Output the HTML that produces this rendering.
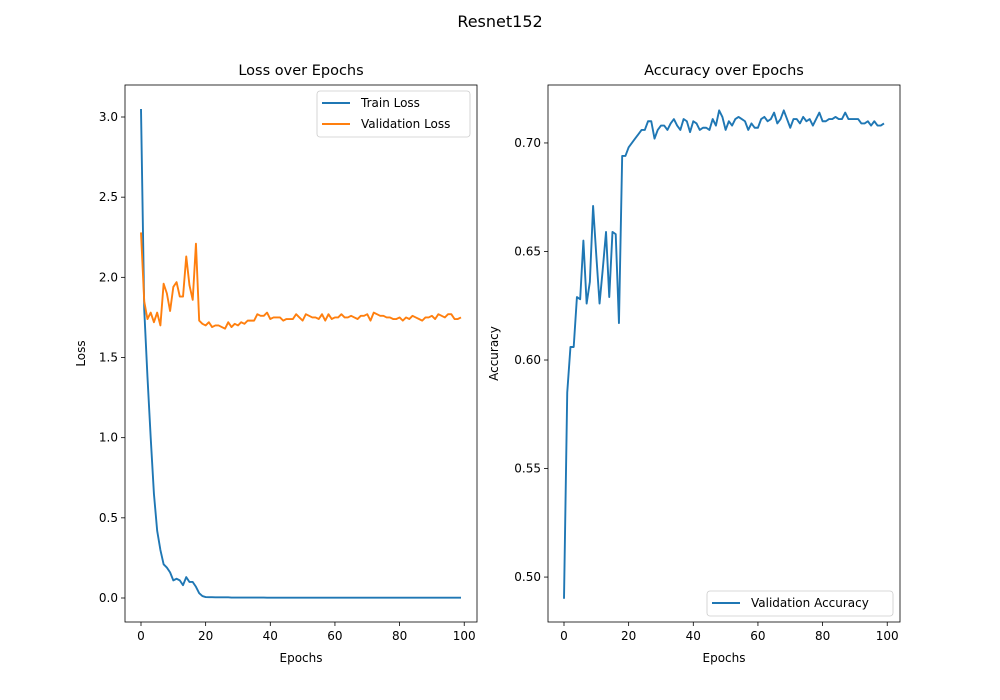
<!DOCTYPE html>
<html><head><meta charset="utf-8">
<style>
body{margin:0;background:#fff;}
svg{display:block;font-family:"DejaVu Sans","Liberation Sans",sans-serif;}
</style></head>
<body>
<svg id="chart" width="1000" height="700" viewBox="0 0 1000 700">
<rect width="1000" height="700" fill="#fff"/>
<text x="500" y="27" text-anchor="middle" font-size="16">Resnet152</text>
<g id="left"></g>
<g id="right"></g>
</svg>
<script>
const trainLoss=[3.05,1.8,1.38,1.0,0.65,0.42,0.3,0.21,0.19,0.16,0.11,0.12,0.11,0.08,0.13,0.10,0.10,0.07,0.03,0.012,0.006,0.005,0.005,0.004,0.004,0.004,0.004,0.004,0.003,0.003,0.003,0.003,0.003,0.003,0.003,0.003,0.003,0.003,0.003,0.002,0.002,0.002,0.002,0.002,0.002,0.002,0.002,0.002,0.002,0.002,0.002,0.002,0.002,0.002,0.002,0.002,0.002,0.002,0.002,0.002,0.002,0.002,0.002,0.002,0.002,0.002,0.002,0.002,0.002,0.002,0.002,0.002,0.002,0.002,0.002,0.002,0.002,0.002,0.002,0.002,0.002,0.002,0.002,0.002,0.002,0.002,0.002,0.002,0.002,0.002,0.002,0.002,0.002,0.002,0.002,0.002,0.002,0.002,0.002,0.002];
const valLoss=[2.28,1.85,1.74,1.78,1.72,1.78,1.70,1.96,1.90,1.79,1.94,1.97,1.88,1.88,2.13,1.95,1.86,2.21,1.73,1.71,1.70,1.72,1.69,1.70,1.70,1.69,1.68,1.72,1.69,1.71,1.70,1.72,1.71,1.73,1.73,1.73,1.77,1.76,1.76,1.78,1.74,1.75,1.75,1.75,1.73,1.74,1.74,1.74,1.77,1.75,1.73,1.77,1.76,1.75,1.75,1.74,1.77,1.73,1.77,1.74,1.75,1.75,1.77,1.75,1.75,1.76,1.75,1.74,1.76,1.76,1.77,1.73,1.78,1.77,1.76,1.76,1.75,1.75,1.74,1.74,1.75,1.73,1.75,1.74,1.76,1.75,1.74,1.73,1.75,1.75,1.76,1.74,1.77,1.76,1.75,1.77,1.77,1.74,1.74,1.75];
const valAcc=[0.490,0.585,0.606,0.606,0.629,0.628,0.655,0.626,0.636,0.671,0.648,0.626,0.642,0.659,0.629,0.659,0.658,0.617,0.694,0.694,0.698,0.700,0.702,0.704,0.706,0.706,0.710,0.710,0.702,0.706,0.708,0.708,0.706,0.709,0.711,0.708,0.706,0.711,0.710,0.705,0.710,0.709,0.706,0.707,0.707,0.706,0.711,0.708,0.715,0.712,0.706,0.710,0.708,0.711,0.712,0.711,0.710,0.706,0.709,0.707,0.707,0.711,0.712,0.710,0.711,0.714,0.709,0.711,0.715,0.711,0.707,0.711,0.711,0.709,0.712,0.710,0.711,0.708,0.711,0.714,0.710,0.710,0.711,0.711,0.712,0.711,0.711,0.714,0.711,0.711,0.711,0.711,0.709,0.709,0.710,0.708,0.710,0.708,0.708,0.709];
const xTicks=[0,20,40,60,80,100];
const lossTicks=[0.0,0.5,1.0,1.5,2.0,2.5,3.0];
const accTicks=[0.50,0.55,0.60,0.65,0.70];
const NS='http://www.w3.org/2000/svg';
function mk(p,tag,attrs){const e=document.createElementNS(NS,tag);for(const k in attrs)e.setAttribute(k,attrs[k]);p.appendChild(e);return e;}
function panel(g,box,xmin,xmax,ymin,ymax,yTicks,yFmt,title,ylabel){
  const X=v=>box.x+(v-xmin)/(xmax-xmin)*box.w;
  const Y=v=>box.y+box.h-(v-ymin)/(ymax-ymin)*box.h;
  const fr=mk(g,'rect',{x:box.x,y:box.y,width:box.w,height:box.h,fill:'none',stroke:'#000','stroke-width':0.8});
  
  
  xTicks.forEach(t=>{
    const l=mk(g,'line',{x1:X(t),x2:X(t),y1:box.y+box.h,y2:box.y+box.h+4,stroke:'#000','stroke-width':0.8});
    
    
    const tx=mk(g,'text',{x:X(t),y:box.y+box.h+18,'text-anchor':'middle','font-size':12});tx.textContent=t;
    
    
  });
  yTicks.forEach(t=>{
    const l=mk(g,'line',{x1:box.x-4,x2:box.x,y1:Y(t),y2:Y(t),stroke:'#000','stroke-width':0.8});
    
    
    const tx=mk(g,'text',{x:box.x-7,y:Y(t)+4,'text-anchor':'end','font-size':12});tx.textContent=yFmt(t);
    
    
  });
  const ti=mk(g,'text',{x:box.x+box.w/2,y:box.y-10,'text-anchor':'middle','font-size':14.5});ti.textContent=title;
  
  
  const xl=mk(g,'text',{x:box.x+box.w/2,y:box.y+box.h+40,'text-anchor':'middle','font-size':12});xl.textContent='Epochs';
  
  
  const yx=box.x-(title.startsWith('Loss')?40:50);
  const yl=mk(g,'text',{x:yx,y:box.y+box.h/2,'text-anchor':'middle','font-size':12,transform:`rotate(-90 ${yx} ${box.y+box.h/2})`});yl.textContent=ylabel;
  
  
  return {X,Y};
}
function line(g,ax,data,color,name){
  const d=data.map((v,i)=>(i?'L':'M')+ax.X(i).toFixed(2)+','+ax.Y(v).toFixed(2)).join(' ');
  const p=mk(g,'path',{d:d,fill:'none',stroke:color,'stroke-width':1.9,'stroke-linejoin':'round'});
  
  
}
const L=document.getElementById('left'),R=document.getElementById('right');
const axL=panel(L,{x:125,y:85,w:352,h:537},-4.95,103.95,-0.1497,3.1996,lossTicks,t=>t.toFixed(1),'Loss over Epochs','Loss');
line(L,axL,trainLoss,'#1f77b4','train-loss-line');
line(L,axL,valLoss,'#ff7f0e','validation-loss-line');
const axR=panel(R,{x:548,y:85,w:352,h:537},-4.95,103.95,0.4793,0.7267,accTicks,t=>t.toFixed(2),'Accuracy over Epochs','Accuracy');
line(R,axR,valAcc,'#1f77b4','validation-accuracy-line');
const lg1=mk(L,'g',{});


mk(lg1,'rect',{x:317,y:91,width:153,height:46,rx:3,fill:'#fff',stroke:'#ccc','stroke-width':0.8});
mk(lg1,'line',{x1:322,x2:350,y1:103,y2:103,stroke:'#1f77b4','stroke-width':1.9});
let t1=mk(lg1,'text',{x:361,y:107,'font-size':12});t1.textContent='Train Loss';


mk(lg1,'line',{x1:322,x2:350,y1:124,y2:124,stroke:'#ff7f0e','stroke-width':1.9});
let t2=mk(lg1,'text',{x:361,y:128,'font-size':12});t2.textContent='Validation Loss';


const lg2=mk(R,'g',{});


mk(lg2,'rect',{x:707,y:591,width:186,height:25,rx:3,fill:'#fff',stroke:'#ccc','stroke-width':0.8});
mk(lg2,'line',{x1:712,x2:740,y1:603,y2:603,stroke:'#1f77b4','stroke-width':1.9});
let t3=mk(lg2,'text',{x:751,y:607,'font-size':12});t3.textContent='Validation Accuracy';


</script>
</body></html>
